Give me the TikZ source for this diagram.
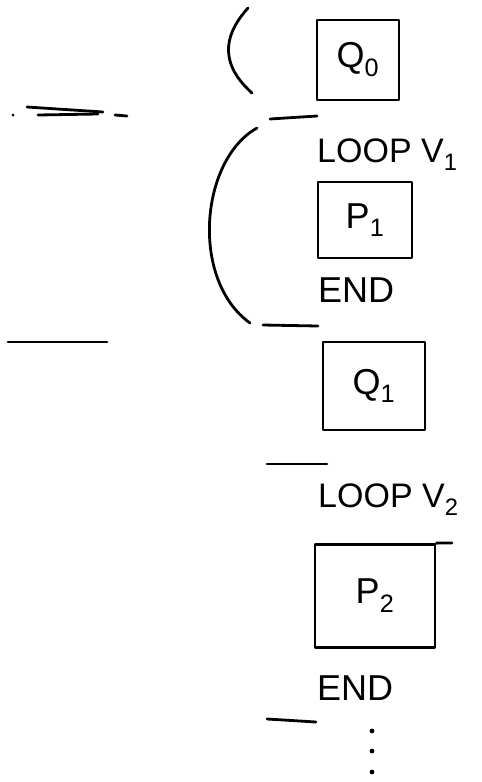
\documentclass[tikz,border=0pt]{standalone}
\usepackage{fontspec}
\setmainfont{Liberation Sans}
\begin{document}
\begin{tikzpicture}[x=1pt,y=-1pt,
  stroke/.style={line width=2.8pt,line cap=round,line join=round},
  blk/.style={stroke,draw,rectangle,inner sep=0pt,font=\fontsize{36}{40}\selectfont},
  lbl/.style={inner sep=0pt,font=\fontsize{34}{37}\selectfont}]
\useasboundingbox (0,0) rectangle (482,782);
% boxes
\node[blk,minimum width=82pt,minimum height=80pt] (q0) at (358,60) {Q\textsubscript{0}};
\node[lbl,anchor=west] (loop1) at (317,155) {LOOP V\textsubscript{1}};
\node[blk,minimum width=94pt,minimum height=76pt] (p1) at (365,220) {P\textsubscript{1}};
\node[lbl,anchor=west,font=\fontsize{36}{38}\selectfont] (end1) at (318,290) {END};
\node[blk,minimum width=102pt,minimum height=88pt] (q1) at (374,386) {Q\textsubscript{1}};
\node[lbl,anchor=west] (loop2) at (318,500) {LOOP V\textsubscript{2}};
\node[blk,minimum width=120pt,minimum height=103pt] (p2) at (375,596) {P\textsubscript{2}};
\node[lbl,anchor=west,font=\fontsize{36}{38}\selectfont] (end2) at (317,688) {END};
\coordinate (p2ext) at (452,543);
\draw[stroke] (p2.north east) -- (p2ext);
% brackets
\draw[stroke] (248,8) .. controls (228,30) and (215,60) .. (252,93);
\draw[stroke] (257,128) .. controls (200,160) and (190,280) .. (250,323);
% separator lines
\draw[stroke] (270,119) -- (317,116);
\draw[stroke] (263,325) -- (318,326);
\draw[stroke] (267,464) -- (327,464);
\draw[stroke] (267,719) -- (316,722);
\draw[stroke] (27,107) -- (103,112);
\draw[stroke] (38,115) -- (98,114);
\draw[stroke] (115,115) -- (127,116);
\fill (13,115) circle (1.5pt);
\draw[stroke] (8,342) -- (107,342);
% dots
\fill (372,731) circle (2.4pt);
\fill (372,751) circle (2.4pt);
\fill (372,772) circle (2.4pt);
\end{tikzpicture}
\end{document}
